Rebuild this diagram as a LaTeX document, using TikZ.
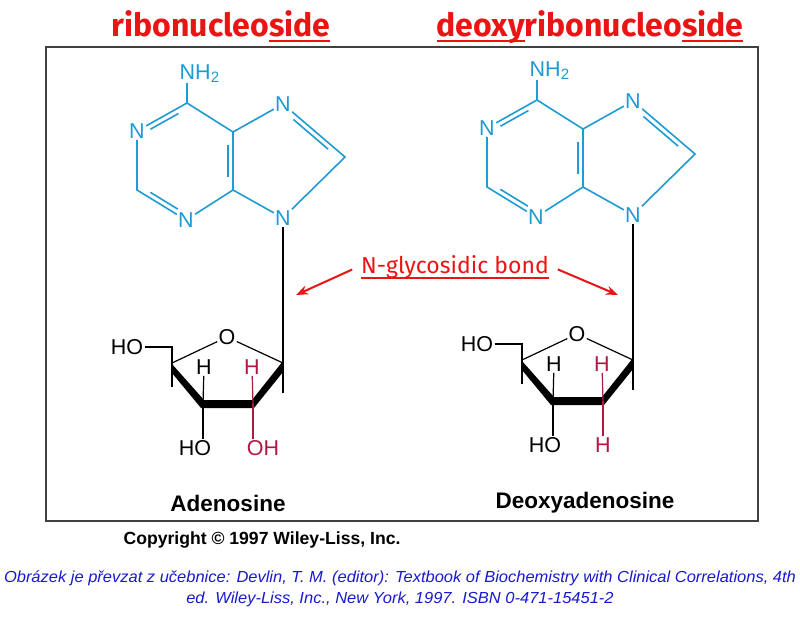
\documentclass[tikz,border=0pt]{standalone}
\usepackage{fontspec}
\setmainfont{Liberation Sans}
\newfontfamily\comicfont{Fira Sans}
\usetikzlibrary{calc,arrows.meta}
\definecolor{basecol}{RGB}{30,155,210}
\definecolor{titlered}{RGB}{235,20,20}
\definecolor{sugarred}{RGB}{175,25,65}
\definecolor{citeblue}{RGB}{25,25,205}
% underlined piece of text
\newsavebox{\ulbox}
\newcommand{\uln}[1]{\sbox{\ulbox}{#1}\rlap{\usebox{\ulbox}}\rule[-6pt]{\wd\ulbox}{2.5pt}}
% second line of a double bond, right of #1 -> #2
\newcommand{\dbond}[2]{\draw[basebond] ($(#1)!.22!(#2)!5pt!-90:(#2)$) -- ($(#2)!.22!(#1)!5pt!90:(#1)$);}

\begin{document}
\begin{tikzpicture}[x=1pt,y=-1pt,
    atom/.style={inner sep=1.2pt,font=\fontsize{21.5}{21.5}\selectfont},
    baseatom/.style={atom,text=basecol},
    redatom/.style={atom,text=sugarred},
    bond/.style={line width=1.2pt},
    basebond/.style={line width=1.6pt,draw=basecol},
    redbond/.style={line width=1.2pt,draw=sugarred},
    nucname/.style={font=\bfseries\fontsize{22.5}{22.5}\selectfont},
    heading/.style={text=titlered,anchor=base,font=\comicfont\bfseries\fontsize{32}{32}\selectfont},
    glylabel/.style={text=titlered,anchor=base,font=\comicfont\fontsize{23}{23}\selectfont},
    glyarrow/.style={draw=titlered,line width=2pt,-{Stealth[length=12pt,width=9pt]},shorten <=6pt}]
  \fill[white] (0,0) rectangle (800,622);
  \useasboundingbox (0,0) rectangle (800,622);
  \draw[line width=1.4pt,draw=black!75] (46,47) rectangle (758,521);

  \def\nucleoside{%
    % adenine
    \coordinate (C6) at (187,103);
    \node[baseatom] (N1) at (137,131) {N};
    \coordinate (C2) at (137,190);
    \node[baseatom] (N3) at (186,220) {N};
    \coordinate (C4) at (233,190);
    \coordinate (C5) at (233,132);
    \node[baseatom] (N7) at (283,104) {N};
    \coordinate (C8) at (345,157);
    \node[baseatom] (N9) at (283,218) {N};
    \node[baseatom,anchor=base west,inner sep=0pt] (NH) at (179.5,79) {NH\textsubscript{2}};
    \draw[basebond] (C6) -- (N1) -- (C2) -- (N3) -- (C4) -- (C5) -- (C6);
    \draw[basebond] (C5) -- (N7) -- (C8) -- (N9) -- (C4);
    \draw[basebond] (C6) -- ($(C6 |- NH.base)+(0,4)$);
    \dbond{N1}{C6} \dbond{N3}{C2} \dbond{C5}{C4} \dbond{N7}{C8}
    % sugar
    \node[atom] (O4) at (227,337) {O};
    \coordinate (c4) at (172,363);
    \coordinate (c3) at (203,404);
    \coordinate (c2) at (253,404);
    \coordinate (c1) at (283,363);
    \coordinate (c4t) at (172,387);
    \coordinate (c1t) at (283,393);
    \node[atom] (HO5) at (127,347) {HO};
    \draw[bond] (c4) -- (O4) -- (c1);
    \draw[bond] (HO5) -| (c4t);
    \draw[bond] (N9) -- (c1t);
    \fill ($(c4)+(0,1)$) -- ($(c3)+(1,-4)$) -- ($(c2)+(-1,-4)$) -- ($(c1)+(0,-2)$)
      -- ($(c1)+(0,9)$) -- ($(c2)+(1,4)$) -- ($(c3)+(-2,4)$) -- ($(c4)+(0,10)$) -- cycle;
    \node[atom] (H3) at (204,367) {H};
    \node[atom] (HO3) at (195,448) {HO};
    \draw[bond] (H3) -- (c3);
    \draw[bond] (c3) -- (c3 |- HO3.north);
    \node[redatom] (H2) at (252,367) {H};
    \draw[redbond] (H2) -- (c2);
  }

  \begin{scope}[name prefix=L-]
    \nucleoside
    \node[redatom] (OH2) at (263,448) {OH};
    \draw[redbond] (c2) -- (c2 |- OH2.north);
  \end{scope}
  \begin{scope}[xshift=350pt,yshift=3pt,name prefix=R-]
    \nucleoside
    \node[redatom] (H2b) at (253,448) {H};
    \draw[redbond] (c2) -- (H2b);
  \end{scope}

  \node[nucname] (adeno) at (228,503) {Adenosine};
  \node[nucname] (deoxy) at (585,503) {Deoxyadenosine};

  \node[heading] (ribo) at (221,36) {ribonucleo\uln{side}};
  \node[heading] (dribo) at (590,36) {\uln{deoxy}ribonucleo\uln{side}};

  \node[glylabel] (gly) at (455,273) {\uln{N-glycosidic bond}};
  \coordinate (tipL) at (296,295);
  \coordinate (tipR) at (618,295);
  \draw[glyarrow] (gly.west) -- (tipL);
  \draw[glyarrow] (gly.east) -- (tipR);

  \node[font=\bfseries\fontsize{17.6}{20}\selectfont] (copy) at (262,540) {Copyright © 1997 Wiley-Liss, Inc.};
  \node[text=citeblue,font=\itshape\fontsize{16}{21}\selectfont,inner sep=0pt] (src) at (400,589)
    {\resizebox{792pt}{\height}{\begin{tabular}{@{}c@{}}Obrázek je převzat z učebnice: Devlin, T. M. (editor): Textbook of Biochemistry with Clinical Correlations, 4th\\ ed. Wiley-Liss, Inc., New York, 1997. ISBN 0-471-15451-2\end{tabular}}};
\end{tikzpicture}
\end{document}
